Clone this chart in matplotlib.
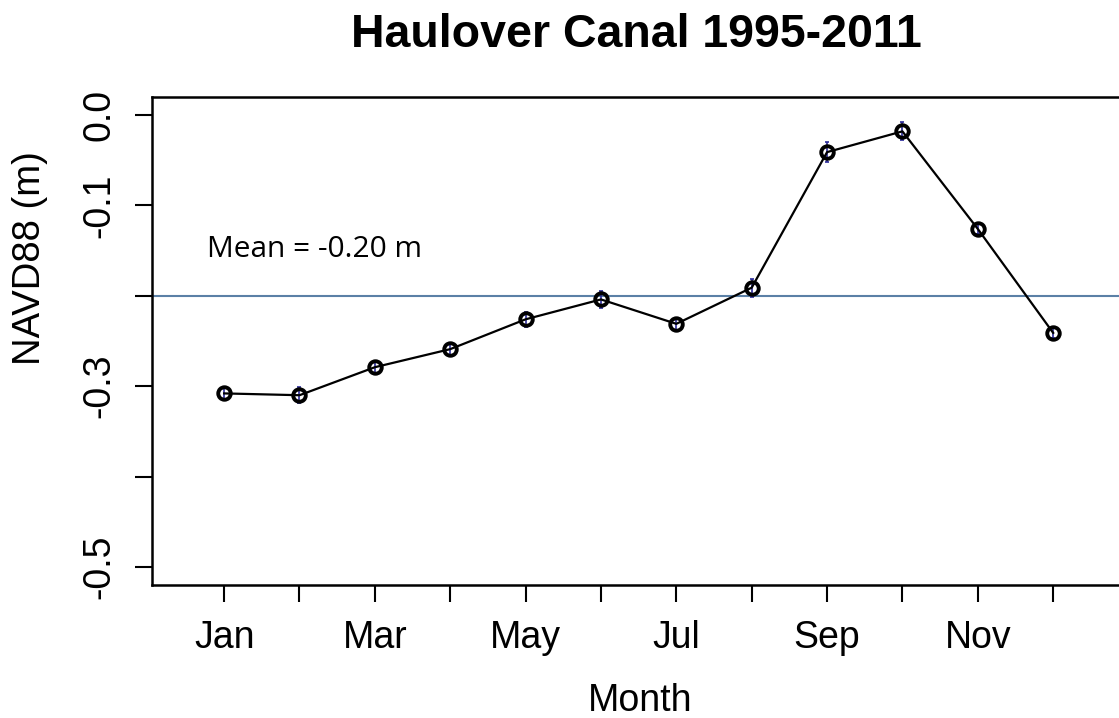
import matplotlib.pyplot as plt
import numpy as np

# Monthly mean water level, Haulover Canal 1995-2011
months = np.arange(1, 13)
month_labels = ['Jan', '', 'Mar', '', 'May', '', 'Jul', '', 'Sep', '', 'Nov', '']
level = [-0.308, -0.310, -0.279, -0.259, -0.226, -0.204,
         -0.231, -0.191, -0.041, -0.018, -0.126, -0.241]
level_err = [0.007, 0.009, 0.007, 0.006, 0.008, 0.009,
             0.007, 0.010, 0.011, 0.010, 0.006, 0.006]
MEAN = -0.20

plt.rcParams['font.family'] = ['Liberation Sans', 'DejaVu Sans']

fig = plt.figure(figsize=(11.19, 7.18), dpi=100)
ax = fig.add_axes([152 / 1119, 133 / 718, (1121 - 152) / 1119, (585 - 97) / 718])

ax.axhline(MEAN, color='#5b80a6', lw=1.5, zorder=1)
ax.errorbar(months, level, yerr=level_err, fmt='none', ecolor='#2b2b9a',
            elinewidth=1.2, capsize=1.5, capthick=1.2, zorder=2)
ax.plot(months, level, color='black', lw=1.6, zorder=3)
ax.plot(months, level, 'o', ms=9, mfc='none', mec='black', mew=2.8, zorder=4)

ax.text(0.774, -0.149, 'Mean = -0.20 m', family='Open Sans', fontsize=21.5,
        ha='left', va='center')

ax.set_xlim(0.043, 12.9)
ax.set_ylim(-0.52, 0.02)
ax.set_xticks(months)
ax.set_xticklabels(month_labels, fontsize=27)
ax.set_yticks([0.0, -0.1, -0.2, -0.3, -0.4, -0.5])
ax.set_yticklabels(['0.0', '-0.1', '', '-0.3', '', '-0.5'], fontsize=27,
                   rotation=90, va='center')
ax.tick_params(axis='both', length=12, width=1.5, direction='out')
ax.tick_params(axis='x', pad=13)
ax.tick_params(axis='y', pad=13)
for s in ax.spines.values():
    s.set_linewidth(1.8)

fig.text(636 / 1119, 1 - 47 / 718, 'Haulover Canal 1995-2011', fontsize=33.5,
         fontweight='bold', ha='center', va='baseline')
fig.text(640 / 1119, 1 - 711 / 718, 'Month', fontsize=27, ha='center', va='baseline')
fig.text(30 / 1119, 1 - 258 / 718, 'NAVD88 (m)', fontsize=27.5, rotation=90,
         ha='center', va='center')

fig.savefig('out.png', dpi=100)
